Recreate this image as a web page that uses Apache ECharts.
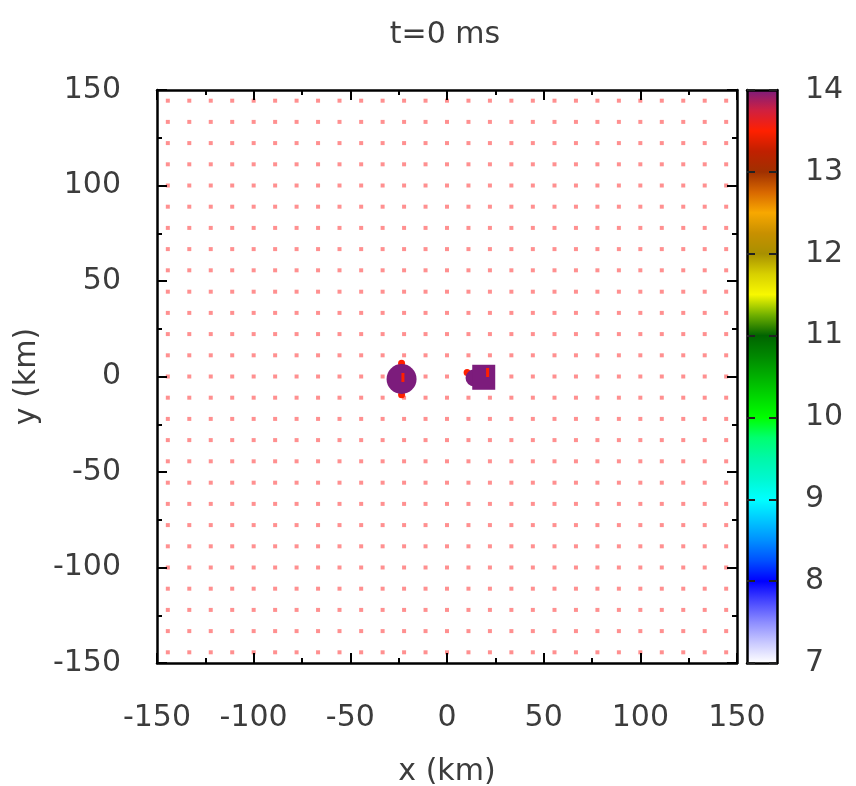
<!DOCTYPE html>
<html>
<head>
<meta charset="utf-8">
<script src="https://cdn.jsdelivr.net/npm/echarts@6/dist/echarts.min.js"></script>
<style>
  html, body { margin: 0; padding: 0; background: #ffffff; }
  #chart { width: 856px; height: 786px; }
</style>
</head>
<body>
<div id="chart"></div>
<script>
// Labels
const titleText = 't=0 ms';
const xName = 'x (km)';
const yName = 'y (km)';

// Axis ranges (km) and colour-scale range
const axisRange = [-150, 150];
const axisStep = 50;
const colorRange = [7, 14];
const colorStep = 1;

// Sample-mesh coordinates (km), used for both x and y
const meshCoords = [-144.4, -133.3, -122.2, -111.1, -100.0, -88.9, -77.8, -66.7, -55.6,
  -44.4, -33.3, -22.2, -11.1, 0.0, 11.1, 22.2, 33.3, 44.4, 55.6, 66.7, 77.8, 88.9,
  100.0, 111.1, 122.2, 133.3, 144.4];

// Colour palette, evenly spaced from 7 to 14
const palette = [
  '#ffffff', '#c8c8ff', '#8c8cff', '#4848ff', '#0000ff', '#0050ff', '#0090ff', '#00c8ff',
  '#00ffff', '#00f8d0', '#00f8a8', '#00ff70', '#00ff00', '#00d800', '#00b000', '#008800',
  '#006400', '#70b000', '#f8f800', '#d8d000', '#a89000', '#c89000', '#f8a800', '#d86800',
  '#a03000', '#c02000', '#ff2000', '#d02040', '#7c1c7c'
];

// Compact objects: [x km, y km, value]
const roundStars = [[-23.5, -1.3, 14]];
const companionDiscs = [[14.0, -0.8, 14]];
const squareStars = [[19.0, -0.4, 14]];
const hotSpots = [[-23.5, 7.0, 13.5], [-23.5, -9.5, 13.5], [10.4, 2.1, 13.5]];
const hotStreaks = [[-22.8, -0.5, 13.5], [21.0, 2.1, 13.5]];

const meshPoints = [];
meshCoords.forEach(function (y) {
  meshCoords.forEach(function (x) { meshPoints.push([x, y]); });
});

const FONT = 'DejaVu Sans';
const TEXT = '#3c3c3c';
const labelStyle = { fontFamily: FONT, fontSize: 30, color: TEXT, lineHeight: 30 };
const FRAME = { color: '#000', width: 2.5 };

function frameAxis(extra) {
  return Object.assign({
    type: 'value',
    gridIndex: 0,
    min: axisRange[0],
    max: axisRange[1],
    interval: axisStep,
    z: 5,
    axisLine: { show: true, onZero: false, lineStyle: FRAME },
    axisTick: { show: true, inside: true, length: 10, lineStyle: { color: '#000', width: 2 } },
    minorTick: { show: true, splitNumber: 2, length: 5, lineStyle: { color: '#000', width: 2 } },
    splitLine: { show: false },
    minorSplitLine: { show: false },
    axisLabel: { show: false }
  }, extra);
}

function barAxis(extra) {
  return Object.assign({
    type: 'value',
    gridIndex: 1,
    min: colorRange[0],
    max: colorRange[1],
    interval: colorStep,
    z: 5,
    axisLine: { show: true, onZero: false, lineStyle: FRAME },
    axisTick: { show: true, inside: true, length: 8, lineStyle: { color: '#222', width: 2 } },
    splitLine: { show: false },
    axisLabel: { show: false }
  }, extra);
}

const gradientStops = palette.map(function (c, i) {
  return { offset: i / (palette.length - 1), color: c };
});

const solid = { opacity: 1 };

const chart = echarts.init(document.getElementById('chart'), null, { renderer: 'canvas' });

chart.setOption({
  animation: false,
  backgroundColor: '#ffffff',
  title: {
    text: titleText,
    left: 440,
    top: 15,
    textAlign: 'center',
    textStyle: { fontFamily: FONT, fontSize: 30, fontWeight: 'normal', color: TEXT, lineHeight: 30 }
  },
  grid: [
    { left: 157, top: 90, width: 580, height: 573, outerBoundsMode: 'none', containLabel: false },
    { left: 747, top: 90, width: 30, height: 573, outerBoundsMode: 'none', containLabel: false }
  ],
  xAxis: [
    frameAxis({
      position: 'bottom',
      axisLabel: Object.assign({ show: true, margin: 40 }, labelStyle),
      name: xName,
      nameLocation: 'middle',
      nameGap: 94,
      nameTextStyle: labelStyle
    }),
    frameAxis({ position: 'top' }),
    {
      type: 'value', gridIndex: 1, min: 0, max: 1, position: 'bottom', z: 5,
      axisLine: { show: true, onZero: false, lineStyle: FRAME },
      axisTick: { show: false }, axisLabel: { show: false }, splitLine: { show: false }
    },
    {
      type: 'value', gridIndex: 1, min: 0, max: 1, position: 'top', z: 5,
      axisLine: { show: true, onZero: false, lineStyle: FRAME },
      axisTick: { show: false }, axisLabel: { show: false }, splitLine: { show: false }
    }
  ],
  yAxis: [
    frameAxis({
      position: 'left',
      axisLabel: Object.assign({ show: true, margin: 36 }, labelStyle),
      name: yName,
      nameLocation: 'middle',
      nameGap: 106,
      nameRotate: 90,
      nameTextStyle: labelStyle
    }),
    frameAxis({ position: 'right' }),
    barAxis({
      position: 'right',
      axisLabel: Object.assign({ show: true, margin: 28 }, labelStyle)
    }),
    barAxis({ position: 'left' })
  ],
  visualMap: {
    type: 'continuous',
    show: false,
    min: colorRange[0],
    max: colorRange[1],
    dimension: 2,
    seriesIndex: [1, 2, 3, 4, 5],
    inRange: { color: palette }
  },
  series: [
    {
      name: 'mesh',
      type: 'scatter',
      xAxisIndex: 0, yAxisIndex: 0,
      symbol: 'rect',
      symbolSize: 4,
      silent: true,
      itemStyle: { color: 'rgba(255, 70, 70, 0.6)', opacity: 1 },
      data: meshPoints
    },
    {
      name: 'hot spots',
      type: 'scatter',
      xAxisIndex: 0, yAxisIndex: 0,
      symbol: 'circle',
      symbolSize: 7,
      itemStyle: solid,
      data: hotSpots
    },
    {
      name: 'round stars',
      type: 'scatter',
      xAxisIndex: 0, yAxisIndex: 0,
      symbol: 'circle',
      symbolSize: 30,
      itemStyle: solid,
      data: roundStars
    },
    {
      name: 'companion discs',
      type: 'scatter',
      xAxisIndex: 0, yAxisIndex: 0,
      symbol: 'circle',
      symbolSize: 17,
      itemStyle: solid,
      data: companionDiscs
    },
    {
      name: 'square stars',
      type: 'scatter',
      xAxisIndex: 0, yAxisIndex: 0,
      symbol: 'rect',
      symbolSize: [23, 25],
      itemStyle: solid,
      z: 3,
      data: squareStars
    },
    {
      name: 'hot streaks',
      type: 'scatter',
      xAxisIndex: 0, yAxisIndex: 0,
      symbol: 'rect',
      symbolSize: [3, 9],
      itemStyle: solid,
      z: 4,
      data: hotStreaks
    },
    {
      name: 'colour bar',
      type: 'custom',
      xAxisIndex: 2, yAxisIndex: 2,
      clip: false,
      silent: true,
      data: [[0, colorRange[0], 1, colorRange[1]]],
      renderItem: function (params, api) {
        const p0 = api.coord([api.value(0), api.value(1)]);
        const p1 = api.coord([api.value(2), api.value(3)]);
        return {
          type: 'rect',
          shape: { x: p0[0], y: p1[1], width: p1[0] - p0[0], height: p0[1] - p1[1] },
          style: { fill: new echarts.graphic.LinearGradient(0, 1, 0, 0, gradientStops) }
        };
      }
    }
  ]
});
</script>
</body>
</html>
